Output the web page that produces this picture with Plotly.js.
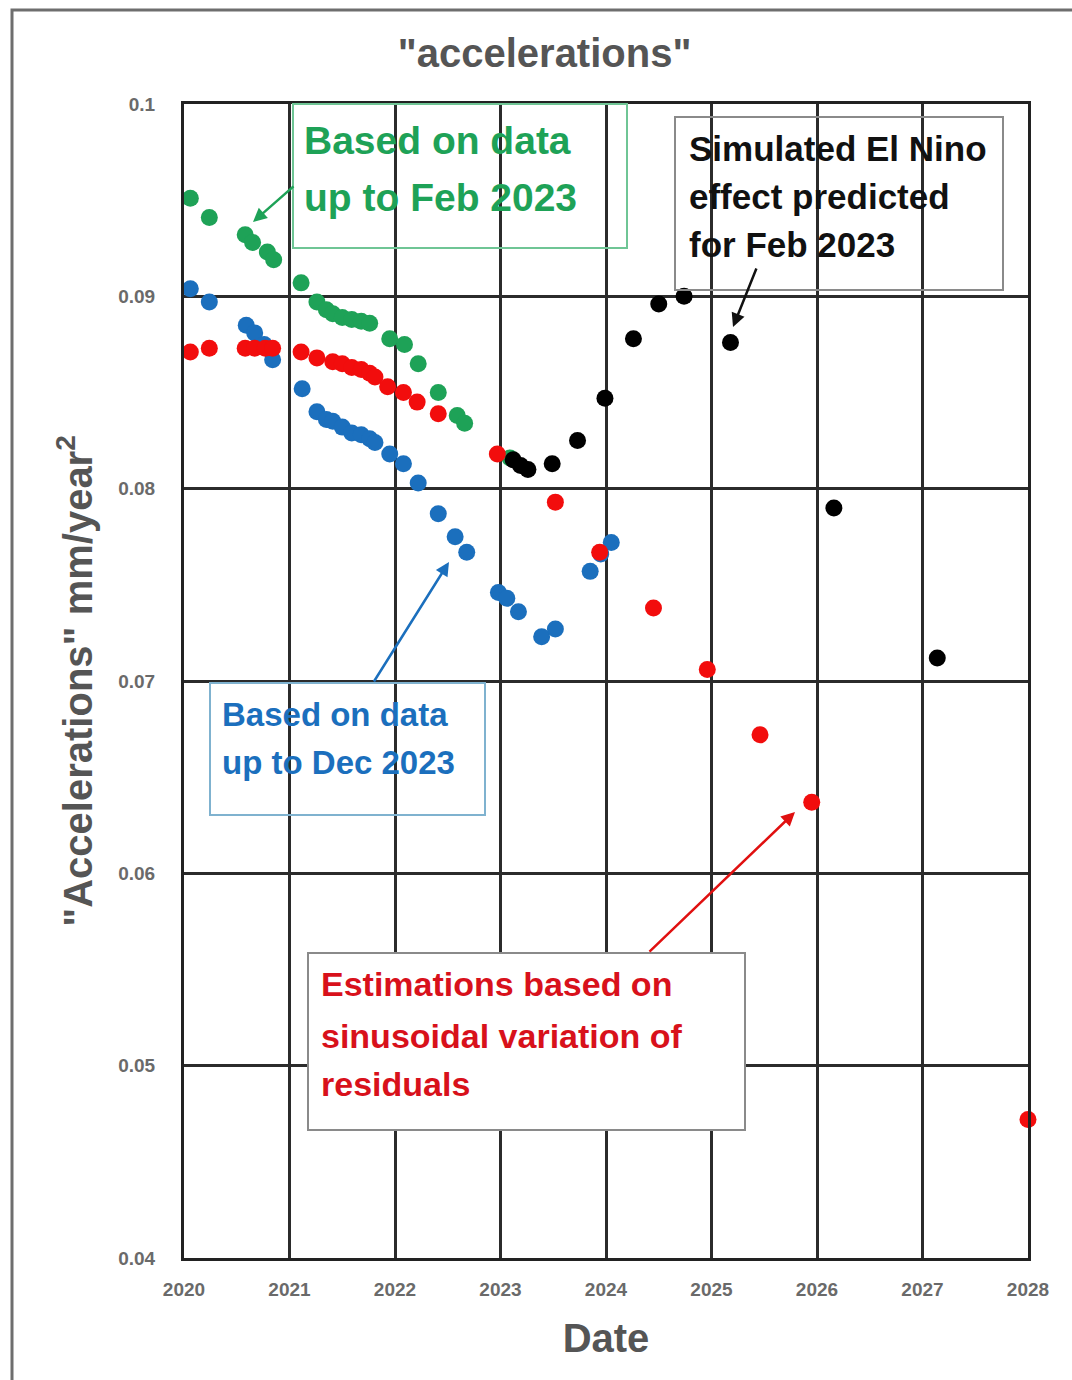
<!DOCTYPE html>
<html>
<head>
<meta charset="utf-8">
<script src="https://cdn.plot.ly/plotly-3.0.1.min.js"></script>
<style>html,body{margin:0;padding:0;background:#fff;}</style>
</head>
<body>
<div id="chart" style="width:1072px;height:1380px;"></div>
<script>
// ---- data ----
const greenX = [2020.06, 2020.24, 2020.58, 2020.65, 2020.79, 2020.85, 2021.11, 2021.26, 2021.35, 2021.41, 2021.50, 2021.59, 2021.68, 2021.76, 2021.95, 2022.09, 2022.22, 2022.41, 2022.59, 2022.66, 2023.09];
const greenY = [0.0951, 0.0941, 0.0932, 0.0928, 0.0923, 0.0919, 0.0907, 0.0897, 0.0893, 0.0891, 0.0889, 0.0888, 0.0887, 0.0886, 0.0878, 0.0875, 0.0865, 0.0850, 0.0838, 0.0834, 0.0816];

const blueX = [2020.06, 2020.24, 2020.59, 2020.67, 2020.76, 2020.84, 2021.12, 2021.26, 2021.35, 2021.41, 2021.50, 2021.59, 2021.68, 2021.76, 2021.81, 2021.95, 2022.08, 2022.22, 2022.41, 2022.57, 2022.68, 2022.98, 2023.06, 2023.17, 2023.39, 2023.52, 2023.85, 2023.95, 2024.05];
const blueY = [0.0904, 0.0897, 0.0885, 0.0881, 0.0875, 0.0867, 0.0852, 0.0840, 0.0836, 0.0835, 0.0832, 0.0829, 0.0828, 0.0826, 0.0824, 0.0818, 0.0813, 0.0803, 0.0787, 0.0775, 0.0767, 0.0746, 0.0743, 0.0736, 0.0723, 0.0727, 0.0757, 0.0766, 0.0772];

const redX = [2020.06, 2020.24, 2020.58, 2020.67, 2020.77, 2020.84, 2021.11, 2021.26, 2021.41, 2021.50, 2021.59, 2021.68, 2021.76, 2021.81, 2021.93, 2022.08, 2022.21, 2022.41, 2022.97, 2023.52, 2023.94, 2024.45, 2024.96, 2025.46, 2025.95, 2028.0];
const redY = [0.0871, 0.0873, 0.0873, 0.0873, 0.0873, 0.0873, 0.0871, 0.0868, 0.0866, 0.0865, 0.0863, 0.0862, 0.0860, 0.0858, 0.0853, 0.0850, 0.0845, 0.0839, 0.0818, 0.0793, 0.0767, 0.0738, 0.0706, 0.0672, 0.0637, 0.0472];

const blackX = [2023.12, 2023.19, 2023.26, 2023.49, 2023.73, 2023.99, 2024.26, 2024.50, 2024.74, 2025.18, 2026.16, 2027.14];
const blackY = [0.0815, 0.0812, 0.0810, 0.0813, 0.0825, 0.0847, 0.0878, 0.0896, 0.0900, 0.0876, 0.0790, 0.0712];

const xTickVals = [2020, 2021, 2022, 2023, 2024, 2025, 2026, 2027, 2028];
const xTickText = ["2020", "2021", "2022", "2023", "2024", "2025", "2026", "2027", "2028"];
const yTickVals = [0.04, 0.05, 0.06, 0.07, 0.08, 0.09, 0.1];
const yTickText = ["0.04", "0.05", "0.06", "0.07", "0.08", "0.09", "0.1"];

const greenLines = ["Based on data", "up to Feb 2023"];
const blackLines = ["Simulated El Nino", "effect predicted", "for Feb 2023"];
const blueLines = ["Based on data", "up to Dec 2023"];
const redLines = ["Estimations based on", "sinusoidal variation of", "residuals"];

// ---- layout helpers (pixel -> paper) ----
const L = 184, R = 1028, T = 104, B = 1258;
const px = x => (x - L) / (R - L);
const py = y => (B - y) / (B - T);

const FONT = "Liberation Sans, Arial, sans-serif";
const cGreen = "#1ea257", cBlue = "#1b6fbd", cRed = "#f20d0d", cBlack = "#000000";

function mk(x, y, color) {
  return {type: "scatter", mode: "markers", x: x, y: y, cliponaxis: false,
          marker: {color: color, size: 17}, hoverinfo: "x+y", showlegend: false};
}
const data = [mk(greenX, greenY, cGreen), mk(blueX, blueY, cBlue), mk(redX, redY, cRed), mk(blackX, blackY, cBlack)];

const annotations = [];
function textBlock(lines, left, mids, size, color) {
  lines.forEach((t, i) => annotations.push({
    xref: "paper", yref: "paper", x: px(left), y: py(mids[i]), xanchor: "left", yanchor: "middle",
    text: t, showarrow: false, font: {family: FONT, size: size, color: color, weight: "bold"}
  }));
}
textBlock(greenLines, 302, [141, 198], 39, cGreen);
textBlock(blackLines, 687, [148, 196, 245], 35, "#111");
textBlock(blueLines, 220, [714, 762], 33, cBlue);
textBlock(redLines, 319, [984, 1036, 1084], 34, "#d8111b");

function arrow(hx, hy, tx, ty, color) {
  annotations.push({xref: "paper", yref: "paper", x: px(hx), y: py(hy), ax: tx - hx, ay: ty - hy,
    axref: "pixel", ayref: "pixel", showarrow: true, arrowhead: 2, arrowsize: 1.1, arrowwidth: 2.5,
    arrowcolor: color, text: ""});
}
arrow(253, 222, 295, 185, cGreen);
arrow(733, 327, 757, 267, "#111");
arrow(449, 562, 373, 683, cBlue);
arrow(795, 812, 648, 953, "#e01010");

function box(x0, y0, x1, y1, color, fill) {
  return {type: "rect", xref: "paper", yref: "paper", x0: px(x0), x1: px(x1), y0: py(y1), y1: py(y0),
          line: {color: color, width: 2}, fillcolor: fill || "rgba(0,0,0,0)", layer: "above"};
}
const shapes = [
  box(293, 104, 627, 248, "#6fc595"),
  box(675, 117, 1003, 290, "#8a8a8a"),
  box(210, 683, 485, 815, "#7fb2cf"),
  box(308, 953, 745, 1130, "#8a8a8a", "#ffffff"),
  {type: "rect", xref: "paper", yref: "paper", x0: px(12), x1: px(1090), y0: py(1400), y1: py(10),
   line: {color: "#6e6e6e", width: 3}, fillcolor: "rgba(0,0,0,0)", layer: "below"}
];

const layout = {
  width: 1072, height: 1380, autosize: false,
  margin: {l: L, r: 1072 - R, t: T, b: 1380 - B},
  paper_bgcolor: "#ffffff", plot_bgcolor: "#ffffff",
  font: {family: FONT},
  title: {text: "\"accelerations\"", x: 0.508, xref: "container", xanchor: "center",
          y: 1 - 53 / 1380, yref: "container", yanchor: "middle",
          font: {family: FONT, size: 40, color: "#555555", weight: "bold"}},
  xaxis: {range: [2020, 2028], tickvals: xTickVals, ticktext: xTickText, showgrid: true,
          gridcolor: "#2b2b2b", gridwidth: 3, zeroline: false, showline: true, mirror: true,
          linecolor: "#222", linewidth: 3, ticks: "", ticklabelstandoff: 12,
          tickfont: {family: FONT, size: 19, color: "#6a6a6a", weight: "bold"},
          title: {text: "Date", standoff: 26, font: {family: FONT, size: 40, color: "#555555", weight: "bold"}}},
  yaxis: {range: [0.04, 0.1], tickvals: yTickVals, ticktext: yTickText, showgrid: true,
          gridcolor: "#2b2b2b", gridwidth: 3, zeroline: false, showline: true, mirror: true,
          linecolor: "#222", linewidth: 3, ticks: "", ticklabelstandoff: 22,
          tickfont: {family: FONT, size: 19, color: "#6a6a6a", weight: "bold"},
          title: {text: "\"Accelerations\" mm/year<sup>2</sup>", standoff: 14,
                  font: {family: FONT, size: 40, color: "#555555", weight: "bold"}}},
  annotations: annotations,
  shapes: shapes
};

Plotly.newPlot("chart", data, layout, {displayModeBar: false, staticPlot: true});
</script>
</body>
</html>
